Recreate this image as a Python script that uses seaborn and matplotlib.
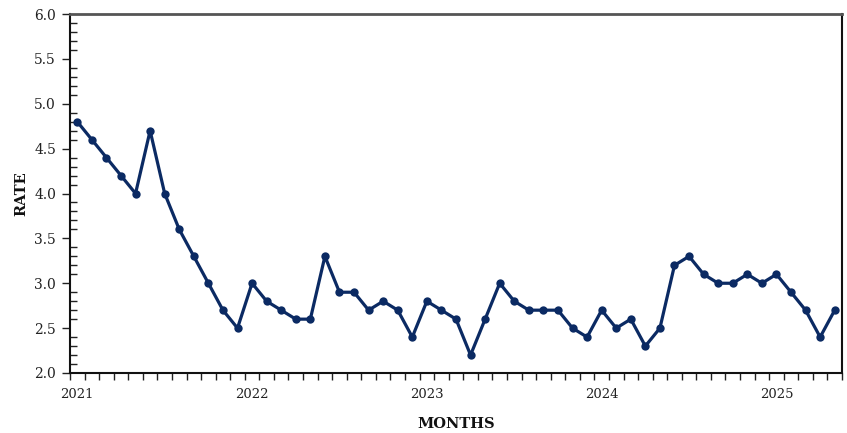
import matplotlib
matplotlib.use("Agg")
import matplotlib.pyplot as plt
import seaborn as sns
import pandas as pd
import numpy as np
from matplotlib.ticker import FixedLocator, MultipleLocator

months = pd.date_range("2021-01-01", "2025-05-01", freq="MS").strftime("%Y-%m").tolist()
rate = [4.8, 4.6, 4.4, 4.2, 4.0, 4.7, 4.0, 3.6, 3.3, 3.0, 2.7, 2.5,
        3.0, 2.8, 2.7, 2.6, 2.6, 3.3, 2.9, 2.9, 2.7, 2.8, 2.7, 2.4,
        2.8, 2.7, 2.6, 2.2, 2.6, 3.0, 2.8, 2.7, 2.7, 2.7, 2.5, 2.4,
        2.7, 2.5, 2.6, 2.3, 2.5, 3.2, 3.3, 3.1, 3.0, 3.0, 3.1, 3.0,
        3.1, 2.9, 2.7, 2.4, 2.7]
year_labels = ["2021", "2022", "2023", "2024", "2025"]

df = pd.DataFrame({"month": months, "rate": rate})
df["idx"] = range(len(df))

sns.set_theme(style="white")
plt.rcParams["font.family"] = ["DejaVu Serif"]

fig = plt.figure(figsize=(8.47, 4.33), dpi=100)
ax = fig.add_axes([70/847, 1 - 373/433, (842-70)/847, (373-14)/433])

color = "#0b2a63"
sns.lineplot(data=df, x="idx", y="rate", ax=ax, color=color, linewidth=2.3,
             marker="o", markersize=6, markeredgewidth=0, markerfacecolor=color)

n = len(df)
ax.set_xlim(-0.5, n - 0.5)
ax.set_ylim(2.0, 6.0)
ax.set_xticks([0, 12, 24, 36, 48])
ax.set_xticklabels(year_labels)
ax.xaxis.set_minor_locator(FixedLocator(np.arange(-0.5, n, 1.0)))
ax.yaxis.set_major_locator(MultipleLocator(0.5))
ax.yaxis.set_minor_locator(MultipleLocator(0.1))
ax.set_yticklabels([f"{v:.1f}" for v in ax.get_yticks()])

ax.tick_params(axis="x", which="major", length=0, pad=11, labelsize=9.5, colors="#222")
ax.tick_params(axis="x", which="minor", direction="out", length=5, width=1, color="#222", bottom=True)
ax.tick_params(axis="y", which="major", direction="out", length=6, width=1, pad=4, labelsize=10,
               colors="#222", left=True)
ax.tick_params(axis="y", which="minor", direction="in", length=5, width=1, color="#222", left=True)

for s in ["left", "bottom", "right"]:
    ax.spines[s].set_color("#111")
    ax.spines[s].set_linewidth(1.5)
ax.spines["top"].set_color("#555")
ax.spines["top"].set_linewidth(2)

ax.set_xlabel("MONTHS", fontsize=10.5, fontweight="bold", labelpad=11, color="#111")
ax.set_ylabel("RATE", fontsize=10.5, fontweight="bold", labelpad=4, color="#111")

fig.savefig("out.png", dpi=100)
